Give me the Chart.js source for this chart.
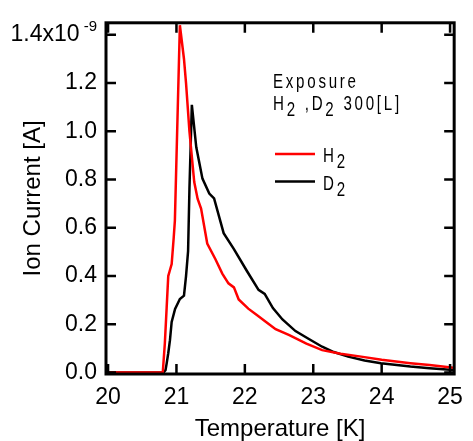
<!DOCTYPE html>
<html>
<head>
<meta charset="utf-8">
<script src="https://cdn.jsdelivr.net/npm/chart.js@4.4.1/dist/chart.umd.min.js"></script>
<style>
  html, body { margin: 0; padding: 0; background: #fff; }
  canvas { display: block; }
</style>
</head>
<body>
<canvas id="myChart" width="473" height="441"></canvas>
<script>
// temperature [K] and ion current [x1e-9 A]
const h2Temp = [19.98, 20.5, 20.8, 20.83, 20.857, 20.88, 20.9, 20.93, 20.96, 20.977, 21.05, 21.11, 21.14, 21.19, 21.26, 21.31, 21.36, 21.45, 21.57, 21.67, 21.76, 21.84, 21.91, 22.05, 22.17, 22.31, 22.45, 22.65, 22.9, 23.13, 23.4, 23.7, 24.0, 24.42, 24.7, 25.05];
const h2Current = [0, 0, 0, 0.12, 0.27, 0.4, 0.42, 0.45, 0.56, 0.63, 1.44, 1.3, 1.2, 1.0, 0.79, 0.72, 0.68, 0.535, 0.47, 0.41, 0.37, 0.353, 0.303, 0.265, 0.24, 0.21, 0.18, 0.155, 0.12, 0.093, 0.078, 0.066, 0.053, 0.039, 0.031, 0.02];

const d2Temp = [19.98, 20.5, 20.81, 20.84, 20.857, 20.88, 20.905, 20.93, 20.98, 21.05, 21.11, 21.14, 21.17, 21.19, 21.225, 21.29, 21.38, 21.48, 21.55, 21.69, 21.84, 22.03, 22.2, 22.29, 22.41, 22.55, 22.74, 22.93, 23.13, 23.3, 23.51, 23.75, 23.99, 24.42, 24.7, 25.05];
const d2Current = [0, 0, 0, 0.01, 0.038, 0.08, 0.134, 0.21, 0.264, 0.305, 0.319, 0.4, 0.503, 0.763, 1.11, 0.934, 0.804, 0.742, 0.722, 0.578, 0.512, 0.421, 0.343, 0.326, 0.267, 0.22, 0.172, 0.14, 0.107, 0.085, 0.066, 0.05, 0.039, 0.025, 0.018, 0.011];

const xTicks = [20, 21, 22, 23, 24, 25];
const xTickLabels = ["20", "21", "22", "23", "24", "25"];
const yTicks = [0, 0.2, 0.4, 0.6, 0.8, 1.0, 1.2, 1.4];
const yTickLabels = ["0.0", "0.2", "0.4", "0.6", "0.8", "1.0", "1.2", "1.4x10  \u2009"];
const yExponent = "-9";

const seriesNames = ["H2", "D2"];
const seriesColors = ["#ff0000", "#000000"];
const legendTitle = ["Exposure", "H2 ,D2 300[L]"];

const toPoints = (xs, ys) => xs.map((x, i) => ({ x, y: ys[i] }));

const FONT = "'Liberation Sans', Arial, sans-serif";

// narrow legend text; a "2" right after H or D is dropped like a subscript
const drawLegendText = (ctx, text, x, y) => {
  ctx.save();
  ctx.font = "21px " + FONT;
  ctx.fillStyle = "#000";
  ctx.textAlign = "left";
  ctx.textBaseline = "alphabetic";
  ctx.translate(x, y);
  ctx.scale(0.72, 1);
  let cx = 0;
  for (let i = 0; i < text.length; i++) {
    const ch = text[i];
    const sub = ch === "2" && (text[i - 1] === "H" || text[i - 1] === "D");
    ctx.fillText(ch, cx, sub ? 6 : 0);
    cx += ctx.measureText(ch).width + 3.8;
  }
  ctx.restore();
};

const framePlugin = {
  id: "frame",
  afterDatasetsDraw(chart) {
    const { ctx, chartArea: a, scales } = chart;
    ctx.save();
    ctx.strokeStyle = "#000";
    ctx.lineWidth = 3;
    ctx.strokeRect(a.left, a.top, a.right - a.left, a.bottom - a.top);
    ctx.lineWidth = 2.5;
    ctx.beginPath();
    xTicks.forEach((v) => {
      const px = scales.x.getPixelForValue(v);
      ctx.moveTo(px, a.bottom);
      ctx.lineTo(px, a.bottom - 10);
      ctx.moveTo(px, a.top);
      ctx.lineTo(px, a.top + 10);
    });
    yTicks.forEach((v) => {
      const py = scales.y.getPixelForValue(v);
      ctx.moveTo(a.left, py);
      ctx.lineTo(a.left + 10, py);
      ctx.moveTo(a.right, py);
      ctx.lineTo(a.right - 10, py);
    });
    ctx.stroke();

    // exponent of the top y label
    const topY = scales.y.getPixelForValue(yTicks[yTicks.length - 1]);
    ctx.fillStyle = "#000";
    ctx.font = "15px " + FONT;
    ctx.textAlign = "right";
    ctx.textBaseline = "alphabetic";
    ctx.fillText(yExponent, 97, topY - 4);

    // legend block inside the plot
    drawLegendText(ctx, legendTitle[0], 273, 88);
    drawLegendText(ctx, legendTitle[1], 273, 110);
    seriesNames.forEach((name, i) => {
      const ly = 154 + i * 27.5;
      ctx.strokeStyle = seriesColors[i];
      ctx.lineWidth = 2.5;
      ctx.beginPath();
      ctx.moveTo(275, ly);
      ctx.lineTo(315, ly);
      ctx.stroke();
      drawLegendText(ctx, name, 323, ly + 8);
    });
    ctx.restore();
  },
};

const ctx = document.getElementById("myChart");

new Chart(ctx, {
  type: "line",
  data: {
    datasets: [
      {
        label: seriesNames[0],
        data: toPoints(h2Temp, h2Current),
        borderColor: seriesColors[0],
        borderWidth: 2.5,
        pointRadius: 0,
        tension: 0,
      },
      {
        label: seriesNames[1],
        data: toPoints(d2Temp, d2Current),
        borderColor: seriesColors[1],
        borderWidth: 2.5,
        pointRadius: 0,
        tension: 0,
      },
    ],
  },
  options: {
    responsive: false,
    animation: false,
    devicePixelRatio: 1,
    layout: { padding: { left: 0, top: 19, right: 12, bottom: 0 } },
    plugins: {
      legend: { display: false },
      tooltip: { enabled: false },
    },
    scales: {
      x: {
        type: "linear",
        min: 19.97,
        max: 25.06,
        afterBuildTicks: (scale) => {
          scale.ticks = xTicks.map((value) => ({ value }));
        },
        afterFit: (scale) => {
          scale.height = 67;
        },
        grid: { display: false, drawTicks: false },
        border: { display: false },
        ticks: {
          padding: 10,
          color: "#000",
          font: { family: FONT, size: 23 },
          maxRotation: 0,
          autoSkip: false,
          callback: (value, index) => xTickLabels[index],
        },
        title: {
          display: true,
          text: "Temperature [K]",
          color: "#000",
          font: { family: FONT, size: 24, lineHeight: 1.0 },
          padding: { top: 0, bottom: 0 },
        },
      },
      y: {
        type: "linear",
        min: -0.006,
        max: 1.45,
        afterBuildTicks: (scale) => {
          scale.ticks = yTicks.map((value) => ({ value }));
        },
        afterFit: (scale) => {
          scale.width = 106;
        },
        grid: { display: false, drawTicks: false },
        border: { display: false },
        ticks: {
          padding: 9,
          color: "#000",
          font: { family: FONT, size: 23 },
          autoSkip: false,
          callback: (value, index) => yTickLabels[index],
        },
        title: {
          display: true,
          text: "Ion Current [A]",
          color: "#000",
          font: { family: FONT, size: 24, lineHeight: 1.0 },
          padding: { top: 21, bottom: 0 },
        },
      },
    },
  },
  plugins: [framePlugin],
});
</script>
</body>
</html>
